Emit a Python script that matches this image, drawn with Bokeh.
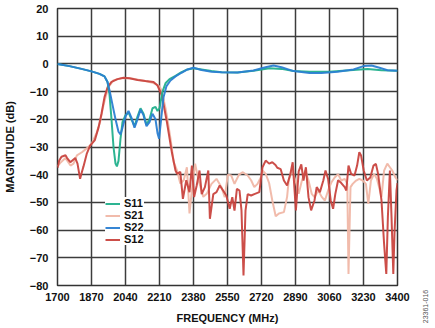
import math
from bokeh.plotting import figure
from bokeh.models import FixedTicker, Legend, LegendItem, Label
from bokeh.layouts import row
from bokeh.embed import file_html
from bokeh.resources import INLINE

# ---------------- data ----------------
x_ticks = [1700, 1870, 2040, 2210, 2380, 2550, 2720, 2890, 3060, 3230, 3400]
x_tick_labels = ["1700", "1870", "2040", "2210", "2380", "2550", "2720", "2890", "3060", "3230", "3400"]
y_ticks = [20, 10, 0, -10, -20, -30, -40, -50, -60, -70, -80]
y_tick_labels = ["20", "10", "0", "\u221210", "\u221220", "\u221230", "\u221240", "\u221250", "\u221260", "\u221270", "\u221280"]

s11_f = [1700, 1760, 1820, 1870, 1910, 1935, 1950, 1960, 1970, 1980, 1990, 1997, 2005, 2015, 2025, 2040,
         2055, 2070, 2085, 2100, 2115, 2130, 2145, 2160, 2175, 2190, 2200, 2210, 2225, 2240, 2260, 2290,
         2320, 2350, 2380, 2420, 2470, 2520, 2600, 2680, 2760, 2820, 2880, 2960, 3060, 3160, 3250, 3320, 3400]
s11_db = [0.0, -0.8, -1.8, -2.7, -3.6, -4.5, -6.5, -11, -20, -30, -36, -37, -35, -27, -21, -18.5,
          -17.5, -20, -22.5, -19, -16, -18, -22, -20, -16, -15.5, -17, -16, -10, -7, -5.5, -4.3,
          -3, -2, -1.6, -2, -2.6, -3, -3.1, -2.5, -1.6, -1.8, -2.6, -2.8, -2.8, -2.3, -1.8, -2.3, -2.5]

s22_f = [1700, 1760, 1820, 1870, 1910, 1935, 1950, 1960, 1970, 1980, 1990, 2005, 2015, 2025, 2040,
         2055, 2070, 2085, 2100, 2115, 2130, 2145, 2160, 2175, 2190, 2200, 2208, 2218, 2230, 2245, 2265,
         2290, 2320, 2350, 2380, 2420, 2470, 2520, 2600, 2680, 2740, 2780, 2820, 2880, 2960, 3020, 3100,
         3180, 3230, 3270, 3310, 3350, 3400]
s22_db = [0.0, -0.8, -1.8, -2.7, -3.6, -4.5, -6.5, -9.5, -13, -16.5, -20, -24.5, -25.5, -23, -19,
          -17, -19.5, -23, -20, -16.5, -18.5, -22.5, -21, -18, -20, -25, -27, -20, -12, -8, -6,
          -4.5, -3.2, -2, -1.4, -2.2, -2.8, -3, -3.1, -2.4, -1.2, -0.6, -1.2, -2.6, -3.3, -3.3, -2.8,
          -2, -0.8, -0.6, -1.4, -2.3, -2.5]

s21_f = [1700, 1717, 1740, 1765, 1780, 1797, 1822, 1846, 1871, 1895, 1913, 1925, 1938, 1955, 1979, 2000,
         2020, 2050, 2078, 2110, 2143, 2175, 2193, 2205, 2216, 2228, 2240, 2252, 2265, 2281, 2298, 2314,
         2331, 2347, 2360, 2377, 2388, 2405, 2429, 2446, 2470, 2495, 2520, 2536, 2552, 2569, 2585, 2607,
         2627, 2651, 2668, 2684, 2700, 2717, 2725, 2741, 2758, 2774, 2791, 2807, 2832, 2848, 2856, 2873,
         2890, 2906, 2922, 2939, 2955, 2971, 2985, 3004, 3021, 3037, 3053, 3070, 3086, 3103, 3119, 3136,
         3149, 3155, 3165, 3176, 3193, 3209, 3226, 3242, 3254, 3267, 3283, 3297, 3308, 3320, 3333, 3349,
         3362, 3374, 3390, 3400]
s21_db = [-37, -35.5, -34, -36.7, -36, -33, -31.9, -30.5, -28.8, -25, -21, -16.5, -12.6, -8.4, -6, -5.5,
          -5.2, -5.1, -5.4, -5.8, -6.3, -6.8, -7.3, -7.8, -8.9, -12, -16, -21, -27, -35.5, -38.5, -43.2,
          -42, -37.3, -54, -42, -36, -42, -48, -46.9, -43.3, -41.5, -44.5, -48.1, -40, -40.3, -43.3, -40,
          -39.1, -40.3, -42, -44.5, -43.3, -40.9, -38.5, -39.7, -43, -49.3, -55, -54, -53.5, -48, -42.1, -38.5,
          -42.1, -46.9, -42.1, -38.5, -42.1, -46.9, -48.1, -45.7, -48, -49.3, -45.7, -42.7, -41, -39.8, -42.1, -41.5,
          -43.3, -75.8, -44.5, -43.3, -42.1, -41.5, -42.1, -43.3, -50.5, -42.1, -39.7, -41.5, -44.5, -48, -38.5, -36,
          -37.3, -38.5, -41, -42]

s12_f = [1700, 1708, 1720, 1740, 1748, 1764, 1789, 1800, 1813, 1822, 1830, 1846, 1863, 1887, 1905, 1920,
         1935, 1950, 1970, 2000, 2030, 2060, 2100, 2140, 2180, 2200, 2222, 2247, 2272, 2290, 2298, 2314,
         2327, 2344, 2360, 2372, 2383, 2396, 2410, 2421, 2437, 2454, 2462, 2479, 2495, 2511, 2528, 2544,
         2561, 2574, 2585, 2597, 2610, 2620, 2630, 2640, 2651, 2668, 2684, 2709, 2725, 2741, 2758, 2774,
         2790, 2799, 2816, 2832, 2848, 2865, 2876, 2892, 2906, 2919, 2930, 2942, 2955, 2968, 2985, 2996,
         3012, 3029, 3040, 3053, 3066, 3078, 3089, 3103, 3119, 3136, 3144, 3155, 3168, 3185, 3198, 3209,
         3218, 3231, 3247, 3264, 3280, 3292, 3303, 3320, 3333, 3344, 3352, 3362, 3370, 3379, 3385, 3395, 3400]
s12_db = [-37.5, -35, -33.5, -33, -34, -35.5, -34, -36, -41.5, -39, -37, -32.5, -29.5, -27.5, -23, -18,
          -12, -8.5, -6.5, -5.5, -5, -5.2, -5.8, -6.2, -6.5, -7.8, -11.4, -21, -32, -38.5, -39.7, -39,
          -48.7, -42, -46.3, -36.7, -48.1, -43.9, -38.5, -47, -44.5, -38.5, -55.9, -47, -46.3, -43.9, -45.7, -47.5,
          -52.3, -48.1, -53, -45.1, -45.7, -53, -76.4, -53, -47, -47.5, -47, -46.3, -37.3, -34.9, -36, -35.5,
          -36.5, -37.5, -38, -42.1, -43.9, -39.5, -35.5, -52.9, -38.8, -36.3, -42.1, -37.3, -48.1, -52.9, -49.3, -44.5,
          -46.3, -42.1, -38.5, -41.5, -49.3, -52.3, -47, -42, -43, -44.5, -45.7, -36.7, -39.7, -40.3, -36.7, -31.9,
          -33.1, -38.5, -42.1, -41, -36.7, -36.1, -39.7, -49.3, -65, -75.8, -55, -38.5, -55, -75.8, -61, -45.7, -43]

series_names = ["S11", "S21", "S22", "S12"]
series_colors = ["#22b08c", "#f0b7a7", "#2b80d2", "#c9453f"]
figure_id = "23361-016"

# ---------------- main figure ----------------
FONT = "Liberation Sans"
p = figure(width=411, height=328, x_range=(1700, 3400), y_range=(-80, 20),
           output_backend="svg", toolbar_location=None,
           min_border_left=52, min_border_right=14, min_border_top=8, min_border_bottom=43)
p.frame_align = False
p.background_fill_color = "white"
p.border_fill_color = "white"
p.outline_line_color = "#333333"
p.outline_line_width = 1.5

p.xaxis.ticker = FixedTicker(ticks=x_ticks)
p.yaxis.ticker = FixedTicker(ticks=y_ticks)
p.xaxis.major_label_overrides = dict(zip(x_ticks, x_tick_labels))
p.yaxis.major_label_overrides = dict(zip(y_ticks, y_tick_labels))

for ax in (p.xaxis, p.yaxis):
    ax.axis_line_color = None
    ax.major_tick_line_color = None
    ax.minor_tick_line_color = None
    ax.major_tick_out = 0
    ax.major_tick_in = 0
    ax.major_label_text_font = FONT
    ax.major_label_text_font_style = "bold"
    ax.major_label_text_font_size = "11px"
    ax.major_label_text_color = "#111111"
    ax.axis_label_text_font = FONT
    ax.axis_label_text_font_style = "bold"
    ax.axis_label_text_font_size = "11px"
    ax.axis_label_text_color = "#111111"

p.xaxis.axis_label = "FREQUENCY (MHz)"
p.yaxis.axis_label = "MAGNITUDE (dB)"
p.xaxis.major_label_standoff = 7
p.yaxis.major_label_standoff = 9
p.xaxis.axis_label_standoff = 8
p.yaxis.axis_label_standoff = 11

p.grid.grid_line_color = "#3c3c3c"
p.grid.grid_line_width = 1.5
p.grid.grid_line_alpha = 1.0

data = {
    "S11": (s11_f, s11_db),
    "S21": (s21_f, s21_db),
    "S22": (s22_f, s22_db),
    "S12": (s12_f, s12_db),
}
draw_order = ["S21", "S12", "S11", "S22"]
renderers = {}
for name in draw_order:
    f, db = data[name]
    col = series_colors[series_names.index(name)]
    renderers[name] = p.line(f, db, line_color=col, line_width=2, line_alpha=0.95)

items = [LegendItem(label=n, renderers=[renderers[n]]) for n in series_names]
legend = Legend(items=items, location=(48, 40))
legend.label_text_font = FONT
legend.label_text_font_style = "bold"
legend.label_text_font_size = "11px"
legend.label_text_color = "#111111"
legend.label_height = 11
legend.glyph_height = 11
legend.glyph_width = 15
legend.spacing = 0
legend.padding = 4
legend.margin = 0
legend.label_standoff = 4
legend.border_line_color = None
legend.background_fill_color = "white"
legend.background_fill_alpha = 1.0
p.add_layout(legend, "center")

# ---------------- narrow strip holding the figure id ----------------
side = figure(width=24, height=328, x_range=(0, 1), y_range=(0, 1),
              output_backend="svg", toolbar_location=None,
              x_axis_location=None, y_axis_location=None,
              min_border_left=0, min_border_right=0, min_border_top=0, min_border_bottom=0)
side.frame_align = False
side.outline_line_color = None
side.grid.visible = False
side.background_fill_color = "white"
side.border_fill_color = "white"
tag = Label(x=14, y=22, x_units="screen", y_units="screen", text=figure_id,
            angle=math.pi / 2, text_align="center", text_baseline="middle",
            text_font=FONT, text_font_size="7px", text_color="#555555")
side.add_layout(tag)

layout = row(p, side, spacing=0)
open("out.html", "w").write(file_html(layout, INLINE))
